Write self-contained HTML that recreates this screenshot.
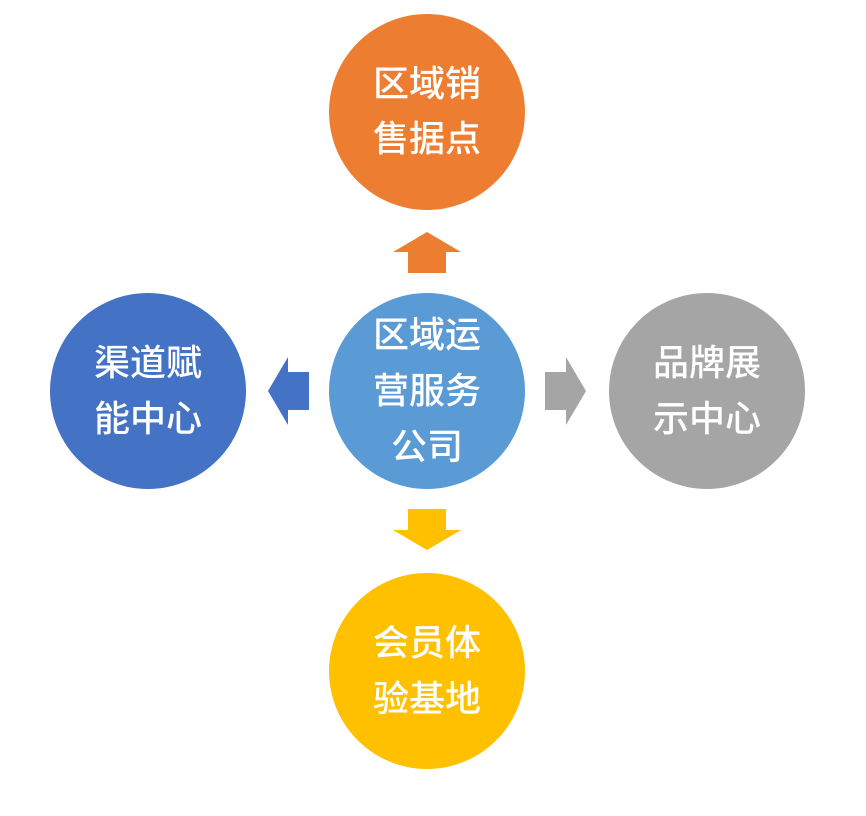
<!DOCTYPE html>
<html><head><meta charset="utf-8"><style>
html,body{margin:0;padding:0;background:#fff;}
svg{display:block}
text{font-family:"Noto Sans CJK SC","WenQuanYi Zen Hei",sans-serif;font-size:36px;font-weight:500;fill:#fff;text-anchor:middle;dominant-baseline:central;}
</style></head><body>
<svg width="866" height="816" viewBox="0 0 866 816" xmlns="http://www.w3.org/2000/svg">
<circle cx="427" cy="112" r="98" fill="#ED7D31"/>
<circle cx="427" cy="391" r="98" fill="#5B9BD5"/>
<circle cx="148" cy="391" r="98" fill="#4472C4"/>
<circle cx="707" cy="391" r="98" fill="#A5A5A5"/>
<circle cx="427" cy="671" r="98" fill="#FFC000"/>
<polygon points="427,232 461,252 446,252 446,273 408,273 408,252 393,252" fill="#ED7D31"/>
<polygon points="427,550 461,530 446,530 446,509 408,509 408,530 393,530" fill="#FFC000"/>
<polygon points="268,391 288,357 288,372 309,372 309,410 288,410 288,425" fill="#4472C4"/>
<polygon points="586,391 566,357 566,372 545,372 545,410 566,410 566,425" fill="#A5A5A5"/>
<g transform="translate(0,-3)">
<text x="427" y="84">区域销</text>
<text x="427" y="139">售据点</text>
<text x="427" y="335">区域运</text>
<text x="427" y="391">营服务</text>
<text x="427" y="447">公司</text>
<text x="148" y="363">渠道赋</text>
<text x="148" y="419">能中心</text>
<text x="707" y="363">品牌展</text>
<text x="707" y="419">示中心</text>
<text x="427" y="643">会员体</text>
<text x="427" y="699">验基地</text>
</g>
</svg>
</body></html>
